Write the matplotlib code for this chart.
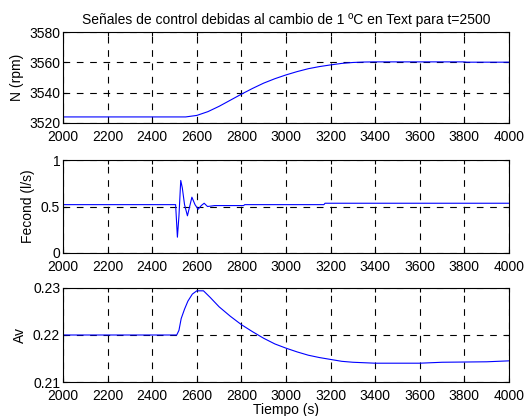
import numpy as np
from matplotlib import pyplot as plt

plt.rcParams['font.family'] = ['Liberation Sans', 'DejaVu Sans']

# Velocidad del compresor N (rpm)
t_n = [2000, 2550, 2600, 2650, 2700, 2750, 2800, 2850, 2900, 2950, 3000, 3050, 3100,
       3150, 3200, 3250, 3300, 3350, 3400, 3800, 3810, 4000]
n_rpm = [3524.0, 3524.0, 3525.0, 3527.5, 3531.0, 3535.0, 3539.0, 3542.8, 3546.3, 3549.2,
         3551.7, 3553.9, 3555.8, 3557.2, 3558.3, 3559.3, 3559.9, 3560.2, 3560.3, 3560.3,
         3560.1, 3560.1]

# Caudal de condensador Fecond (l/s)
t_f = [2000, 2505, 2513, 2520, 2528, 2535, 2545, 2558, 2568, 2578, 2592, 2606, 2620,
       2633, 2648, 2665, 2680, 2810, 2815, 3170, 3175, 4000]
fecond = [0.52, 0.52, 0.17, 0.40, 0.78, 0.70, 0.52, 0.40, 0.50, 0.60, 0.52, 0.47, 0.51,
          0.535, 0.50, 0.505, 0.51, 0.51, 0.52, 0.52, 0.535, 0.535]

# Apertura de valvula Av
t_a = [2000, 2510, 2520, 2530, 2545, 2560, 2580, 2600, 2630, 2660, 2700, 2750, 2800,
       2850, 2900, 2950, 3000, 3050, 3100, 3150, 3200, 3250, 3300, 3350, 3400, 3600,
       3700, 3900, 4000]
av = [0.2200, 0.2200, 0.2210, 0.2235, 0.2255, 0.2272, 0.2287, 0.2294, 0.2294, 0.2280,
      0.2260, 0.2240, 0.2222, 0.2207, 0.2193, 0.2181, 0.2172, 0.2164, 0.2157, 0.2152,
      0.2148, 0.2144, 0.2142, 0.2141, 0.2140, 0.2140, 0.2142, 0.2143, 0.2145]

xticks = np.arange(2000, 4001, 200)

fig = plt.figure(figsize=(5.24, 4.16), dpi=100)

def setup(ax, ylim, yticks, yticklabels, ylabel):
    ax.set_xlim(2000, 4000)
    ax.set_ylim(*ylim)
    ax.set_xticks(xticks)
    ax.set_yticks(yticks)
    ax.set_yticklabels(yticklabels)
    ax.set_ylabel(ylabel, fontsize=10)
    ax.tick_params(direction='in', labelsize=10, length=3, top=True, right=True)
    ax.tick_params(axis='y', pad=2)
    ax.tick_params(axis='x', pad=5)
    ax.grid(True, color='black', linestyle=(0, (6, 6)), linewidth=0.8)
    for s in ax.spines.values():
        s.set_linewidth(0.8)

# axes rectangles in figure fraction (left, bottom, width, height)
ax1 = fig.add_axes([63/524, 1-123/416, 446/524, 91/416])
ax1.plot(t_n, n_rpm, color='blue', linewidth=0.8)
setup(ax1, (3520, 3580), [3520, 3540, 3560, 3580], ['3520', '3540', '3560', '3580'], 'N (rpm)')
ax1.set_title('Señales de control debidas al cambio de 1 ºC en Text para t=2500', fontsize=10, pad=6)

ax2 = fig.add_axes([63/524, 1-253/416, 446/524, 93/416])
ax2.plot(t_f, fecond, color='blue', linewidth=0.8)
setup(ax2, (0, 1), [0, 0.5, 1], ['0', '0.5', '1'], 'Fecond (l/s)')

ax3 = fig.add_axes([63/524, 1-382/416, 446/524, 94/416])
ax3.plot(t_a, av, color='blue', linewidth=0.8)
setup(ax3, (0.21, 0.23), [0.21, 0.22, 0.23], ['0.21', '0.22', '0.23'], 'Av')
ax3.set_xlabel('Tiempo (s)', fontsize=10, labelpad=0)

plt.savefig('out.png', dpi=100)
